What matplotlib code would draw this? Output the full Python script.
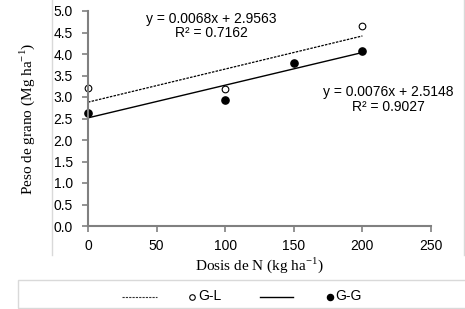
import matplotlib
matplotlib.use("Agg")
import matplotlib.pyplot as plt
from matplotlib.lines import Line2D
from matplotlib.patches import Rectangle
import numpy as np

# Data
gl_x = [0, 100, 200]
gl_y = [3.20, 3.18, 4.66]
gg_x = [0, 100, 150, 200]
gg_y = [2.62, 2.93, 3.78, 4.08]
# trend lines as drawn (slope, intercept)
gl_fit = (0.0077, 2.88)
gg_fit = (0.0076, 2.5148)
fit_range = [0, 200]
gl_eq = ["y = 0.0068x + 2.9563", "R² = 0.7162"]
gg_eq = ["y = 0.0076x + 2.5148", "R² = 0.9027"]
series_names = ["G-L", "G-G"]
xticks = [0, 50, 100, 150, 200, 250]
yticks = np.arange(0, 5.01, 0.5)

W, H = 465, 309
fig = plt.figure(figsize=(W / 100, H / 100), dpi=100)
ax = fig.add_axes([88 / W, 1 - 226 / H, (431 - 88) / W, (226 - 11) / H])

serif = "Liberation Serif"
sans = "Liberation Sans"
dash = (0, (2, 1))

xf = np.array(fit_range, dtype=float)
ax.plot(xf, gl_fit[0] * xf + gl_fit[1], color="black", lw=0.9, ls=dash)
ax.plot(xf, gg_fit[0] * xf + gg_fit[1], color="black", lw=1.0, ls="-")
ax.plot(gl_x, gl_y, ls="none", marker="o", ms=4.8, mfc="white", mec="black", mew=0.8, clip_on=False)
ax.plot(gg_x, gg_y, ls="none", marker="o", ms=5.2, mfc="black", mec="black", clip_on=False)

ax.set_xlim(0, 250)
ax.set_ylim(0, 5)
ax.set_xticks(xticks)
ax.set_yticks(yticks)
ax.set_yticklabels([f"{v:.1f}" for v in yticks])
for s in ["top", "right"]:
    ax.spines[s].set_visible(False)
for s in ["left", "bottom"]:
    ax.spines[s].set_color("#808080")
    ax.spines[s].set_linewidth(1.5)
ax.tick_params(axis="both", direction="out", length=4, width=1.2, color="#808080",
               labelsize=10)
for lab in ax.get_xticklabels() + ax.get_yticklabels():
    lab.set_family(sans)
ax.tick_params(axis="x", pad=5)
ax.tick_params(axis="y", pad=7)

sup = "$^{\\mathregular{-1}}$"
ax.set_xlabel("Dosis de N (kg ha" + sup + ")", fontfamily=serif, fontsize=11, labelpad=2)
ax.set_ylabel("Peso de grano (Mg ha" + sup + ")", fontfamily=serif, fontsize=11, labelpad=12)

tf = fig.transFigure
ax.text(211 / W, 1 - 19 / H, gl_eq[0], transform=tf, ha="center", va="center", fontsize=10, family=sans)
ax.text(211 / W, 1 - 33 / H, gl_eq[1], transform=tf, ha="center", va="center", fontsize=10, family=sans)
ax.text(388 / W, 1 - 92 / H, gg_eq[0], transform=tf, ha="center", va="center", fontsize=10, family=sans)
ax.text(388 / W, 1 - 107 / H, gg_eq[1], transform=tf, ha="center", va="center", fontsize=10, family=sans)

# chart frame lines
fc = "#d9d9d9"
fig.add_artist(Line2D([52 / W, 52 / W], [1, 1 - 255 / H], color=fc, lw=1))
fig.add_artist(Line2D([463.5 / W, 463.5 / W], [1, 1 - 255 / H], color=fc, lw=1))
fig.add_artist(Rectangle((18 / W, 1 - 308 / H), (470 - 18) / W, 28 / H, transform=tf,
                         fill=False, edgecolor=fc, lw=1))

# manual legend
ly = 1 - 296.5 / H
fig.add_artist(Line2D([122 / W, 157 / W], [ly, ly], color="#333333", lw=0.8, ls=dash))
fig.add_artist(Line2D([192 / W], [ly], ls="none", marker="o", ms=4.0, mfc="white", mec="black", mew=0.8))
fig.text(198.5 / W, ly, series_names[0], ha="left", va="center", fontsize=10, family=sans)
fig.add_artist(Line2D([260 / W, 293 / W], [ly, ly], color="black", lw=1.0))
fig.add_artist(Line2D([330 / W], [ly], ls="none", marker="o", ms=4.4, mfc="black", mec="black"))
fig.text(335 / W, ly, series_names[1], ha="left", va="center", fontsize=10, family=sans)

fig.savefig("out.png", dpi=100)
